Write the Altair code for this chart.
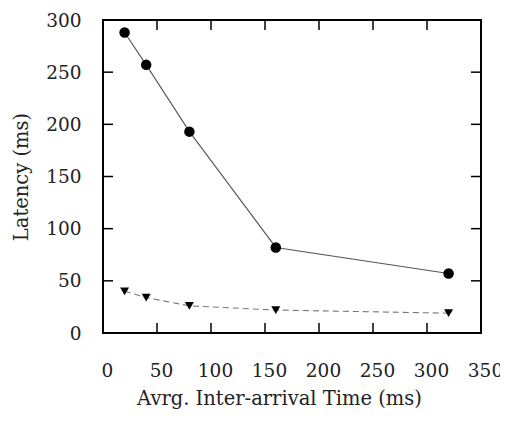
import altair as alt
import pandas as pd

x_vals = [20, 40, 80, 160, 320]
lat_circle = [288, 257, 193, 82, 57]
lat_tri = [40, 34, 26, 22, 19]
x_ticks = [0, 50, 100, 150, 200, 250, 300, 350]
y_ticks = [0, 50, 100, 150, 200, 250, 300]

W, H = 378, 313
TICK = 10

df_a = pd.DataFrame({"x": x_vals, "y": lat_circle})
df_b = pd.DataFrame({"x": x_vals, "y": lat_tri})
df_xt = pd.DataFrame({"x": x_ticks})
df_yt = pd.DataFrame({"y": y_ticks})

FONT = "DejaVu Serif"
xs = alt.Scale(domain=[0, 350], nice=False, zero=False)
ys = alt.Scale(domain=[0, 300], nice=False)

common = dict(ticks=False, domain=False, grid=False,
              labelFont=FONT, labelFontSize=18.5, labelColor="#222222",
              labelFlush=False,
              titleFont=FONT, titleFontSize=19.5, titleFontWeight="normal", titleColor="#222222")

x_bottom = alt.Axis(values=x_ticks, orient="bottom", labelPadding=28, labelBaseline="top",
                    labelOffset=4, title="Avrg. Inter-arrival Time (ms)", titlePadding=10,
                    titleX=176, **common)
y_left = alt.Axis(values=y_ticks, orient="left", labelPadding=22,
                  title="Latency (ms)", titlePadding=14, **common)

X = alt.X("x:Q", scale=xs, axis=x_bottom)
Y = alt.Y("y:Q", scale=ys, axis=y_left)

line_a = alt.Chart(df_a).mark_line(color="#555555", strokeWidth=1.1).encode(x=X, y=Y)
line_b = alt.Chart(df_b).mark_line(color="#777777", strokeWidth=1.1, strokeDash=[6, 4]).encode(x=X, y=Y)
pts_a = alt.Chart(df_a).mark_point(shape="circle", filled=True, color="black", opacity=1, size=110).encode(x=X, y=Y)
pts_b = alt.Chart(df_b).mark_point(shape="triangle-down", filled=True, color="black", opacity=1, size=80).encode(x=X, y=Y)

tick_style = dict(color="black", strokeWidth=1.5)
xt_bottom = alt.Chart(df_xt).mark_rule(**tick_style).encode(
    x=X, y=alt.value(H - TICK), y2=alt.value(H))
xt_top = alt.Chart(df_xt).mark_rule(**tick_style).encode(
    x=X, y=alt.value(0), y2=alt.value(TICK))
yt_left = alt.Chart(df_yt).mark_rule(**tick_style).encode(
    y=Y, x=alt.value(0), x2=alt.value(TICK))
yt_right = alt.Chart(df_yt).mark_rule(**tick_style).encode(
    y=Y, x=alt.value(W - TICK), x2=alt.value(W))

chart = alt.layer(line_a, line_b, pts_a, pts_b, xt_bottom, xt_top, yt_left, yt_right).properties(
    width=W, height=H,
    autosize=alt.AutoSizeParams(type="none"),
    padding={"left": 95, "top": 12, "right": 19, "bottom": 83},
    background="white",
).configure_view(stroke="black", strokeWidth=2)

chart.save("out.html", embed_options={"renderer": "svg", "actions": False})
